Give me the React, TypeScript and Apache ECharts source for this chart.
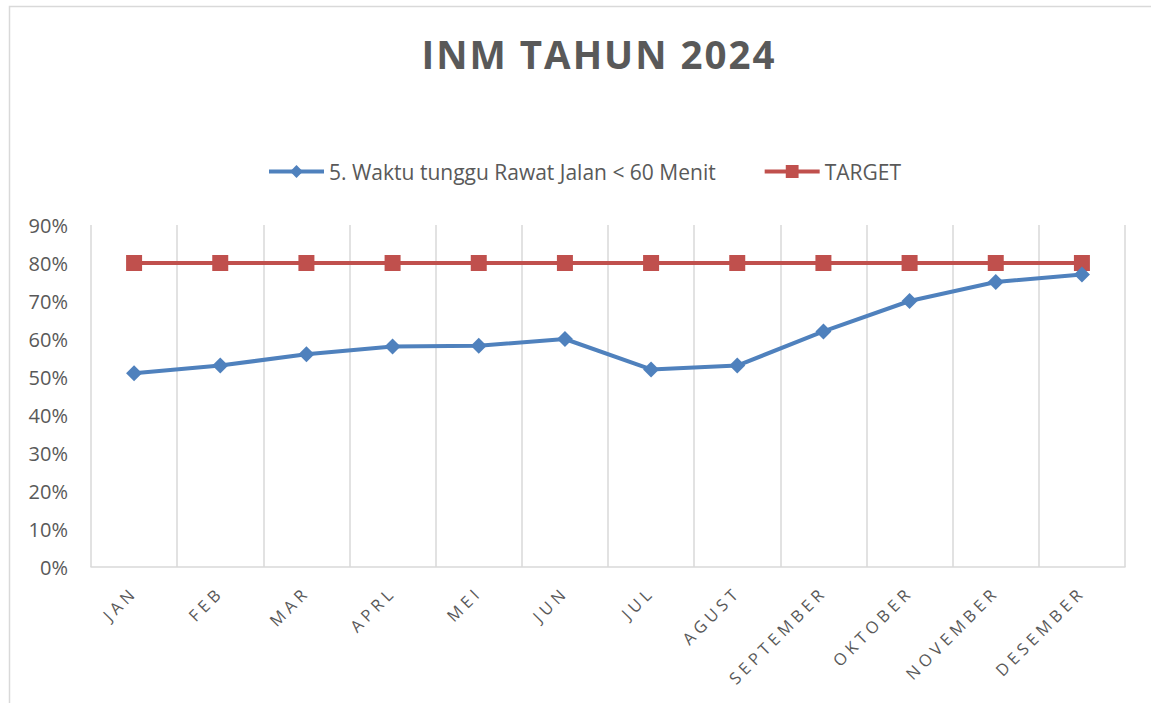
import React, { useEffect, useRef } from "react";
import * as echarts from "echarts";

const months = ["JAN", "FEB", "MAR", "APRL", "MEI", "JUN", "JUL", "AGUST", "SEPTEMBER", "OKTOBER", "NOVEMBER", "DESEMBER"];
const waktuTunggu = [0.51, 0.53, 0.56, 0.58, 0.582, 0.60, 0.52, 0.53, 0.62, 0.70, 0.75, 0.77];
const target = [0.8, 0.8, 0.8, 0.8, 0.8, 0.8, 0.8, 0.8, 0.8, 0.8, 0.8, 0.8];
const seriesNames = ["5. Waktu tunggu Rawat Jalan < 60 Menit", "TARGET"];
const titleText = "INM TAHUN 2024";

const FONT = "'Open Sans', sans-serif";
const XFONT = "'Open Sans', 'Noto Sans', sans-serif";
const TFONT = "'Open Sans', Lato, sans-serif";

const css = `
#root svg text[style*="Noto Sans"], #root svg text[font-family*="Noto Sans"] { letter-spacing: 4.3px; }
#root svg text[style*="Lato"], #root svg text[font-family*="Lato"] { letter-spacing: 2px; }
`;

export default function App() {
  const ref = useRef<HTMLDivElement>(null);
  useEffect(() => {
    if (!ref.current) return;
    const chart = echarts.init(ref.current, null, { renderer: "svg" });
    chart.setOption({
      animation: false,
      backgroundColor: "#ffffff",
      textStyle: { fontFamily: FONT },
      title: {
        text: titleText,
        left: 594,
        textAlign: "center",
        top: 29,
        textStyle: { fontFamily: TFONT, fontSize: 38.5, fontWeight: "bold", color: "#595959" },
      },
      legend: {
        top: 156,
        left: 262,
        itemWidth: 55,
        itemHeight: 16,
        itemGap: 47,
        lineStyle: { width: 4 },
        textStyle: { fontFamily: FONT, fontSize: 21, color: "#595959" },
        data: seriesNames,
      },
      graphic: [
        {
          type: "rect",
          shape: { x: 9.5, y: 6.5, width: 1160, height: 720 },
          style: { fill: "none", stroke: "#d9d9d9", lineWidth: 1.5 },
          silent: true,
        },
      ],
      grid: { left: 91, right: 26, top: 225, bottom: 136 },
      xAxis: {
        type: "category",
        data: months,
        boundaryGap: true,
        axisLine: { lineStyle: { color: "#d9d9d9", width: 1.5 } },
        axisTick: { show: false },
        splitLine: { show: true, lineStyle: { color: "#d9d9d9", width: 1.5 } },
        axisLabel: {
          rotate: 45,
          margin: 22,
          fontFamily: XFONT,
          fontSize: 16.5,
          color: "#595959",
          interval: 0,
        },
      },
      yAxis: {
        type: "value",
        min: 0,
        max: 0.9,
        interval: 0.1,
        axisLine: { show: false },
        axisTick: { show: false },
        splitLine: { show: false },
        axisLabel: {
          margin: 23,
          fontFamily: FONT,
          fontSize: 20,
          color: "#595959",
          formatter: (v: number) => Math.round(v * 100) + "%",
        },
      },
      series: [
        {
          name: seriesNames[0],
          type: "line",
          data: waktuTunggu,
          symbol: "diamond",
          symbolSize: 16,
          itemStyle: { color: "#4f81bd" },
          lineStyle: { color: "#4f81bd", width: 4 },
          z: 3,
        },
        {
          name: seriesNames[1],
          type: "line",
          data: target,
          symbol: "rect",
          symbolSize: 16,
          itemStyle: { color: "#c0504d" },
          lineStyle: { color: "#c0504d", width: 4 },
          z: 2,
        },
      ],
    });
    return () => chart.dispose();
  }, []);
  return (
    <>
      <style>{css}</style>
      <div
        ref={ref}
        style={{ position: "absolute", left: 0, top: 0, width: 1151, height: 703 }}
      />
    </>
  );
}
